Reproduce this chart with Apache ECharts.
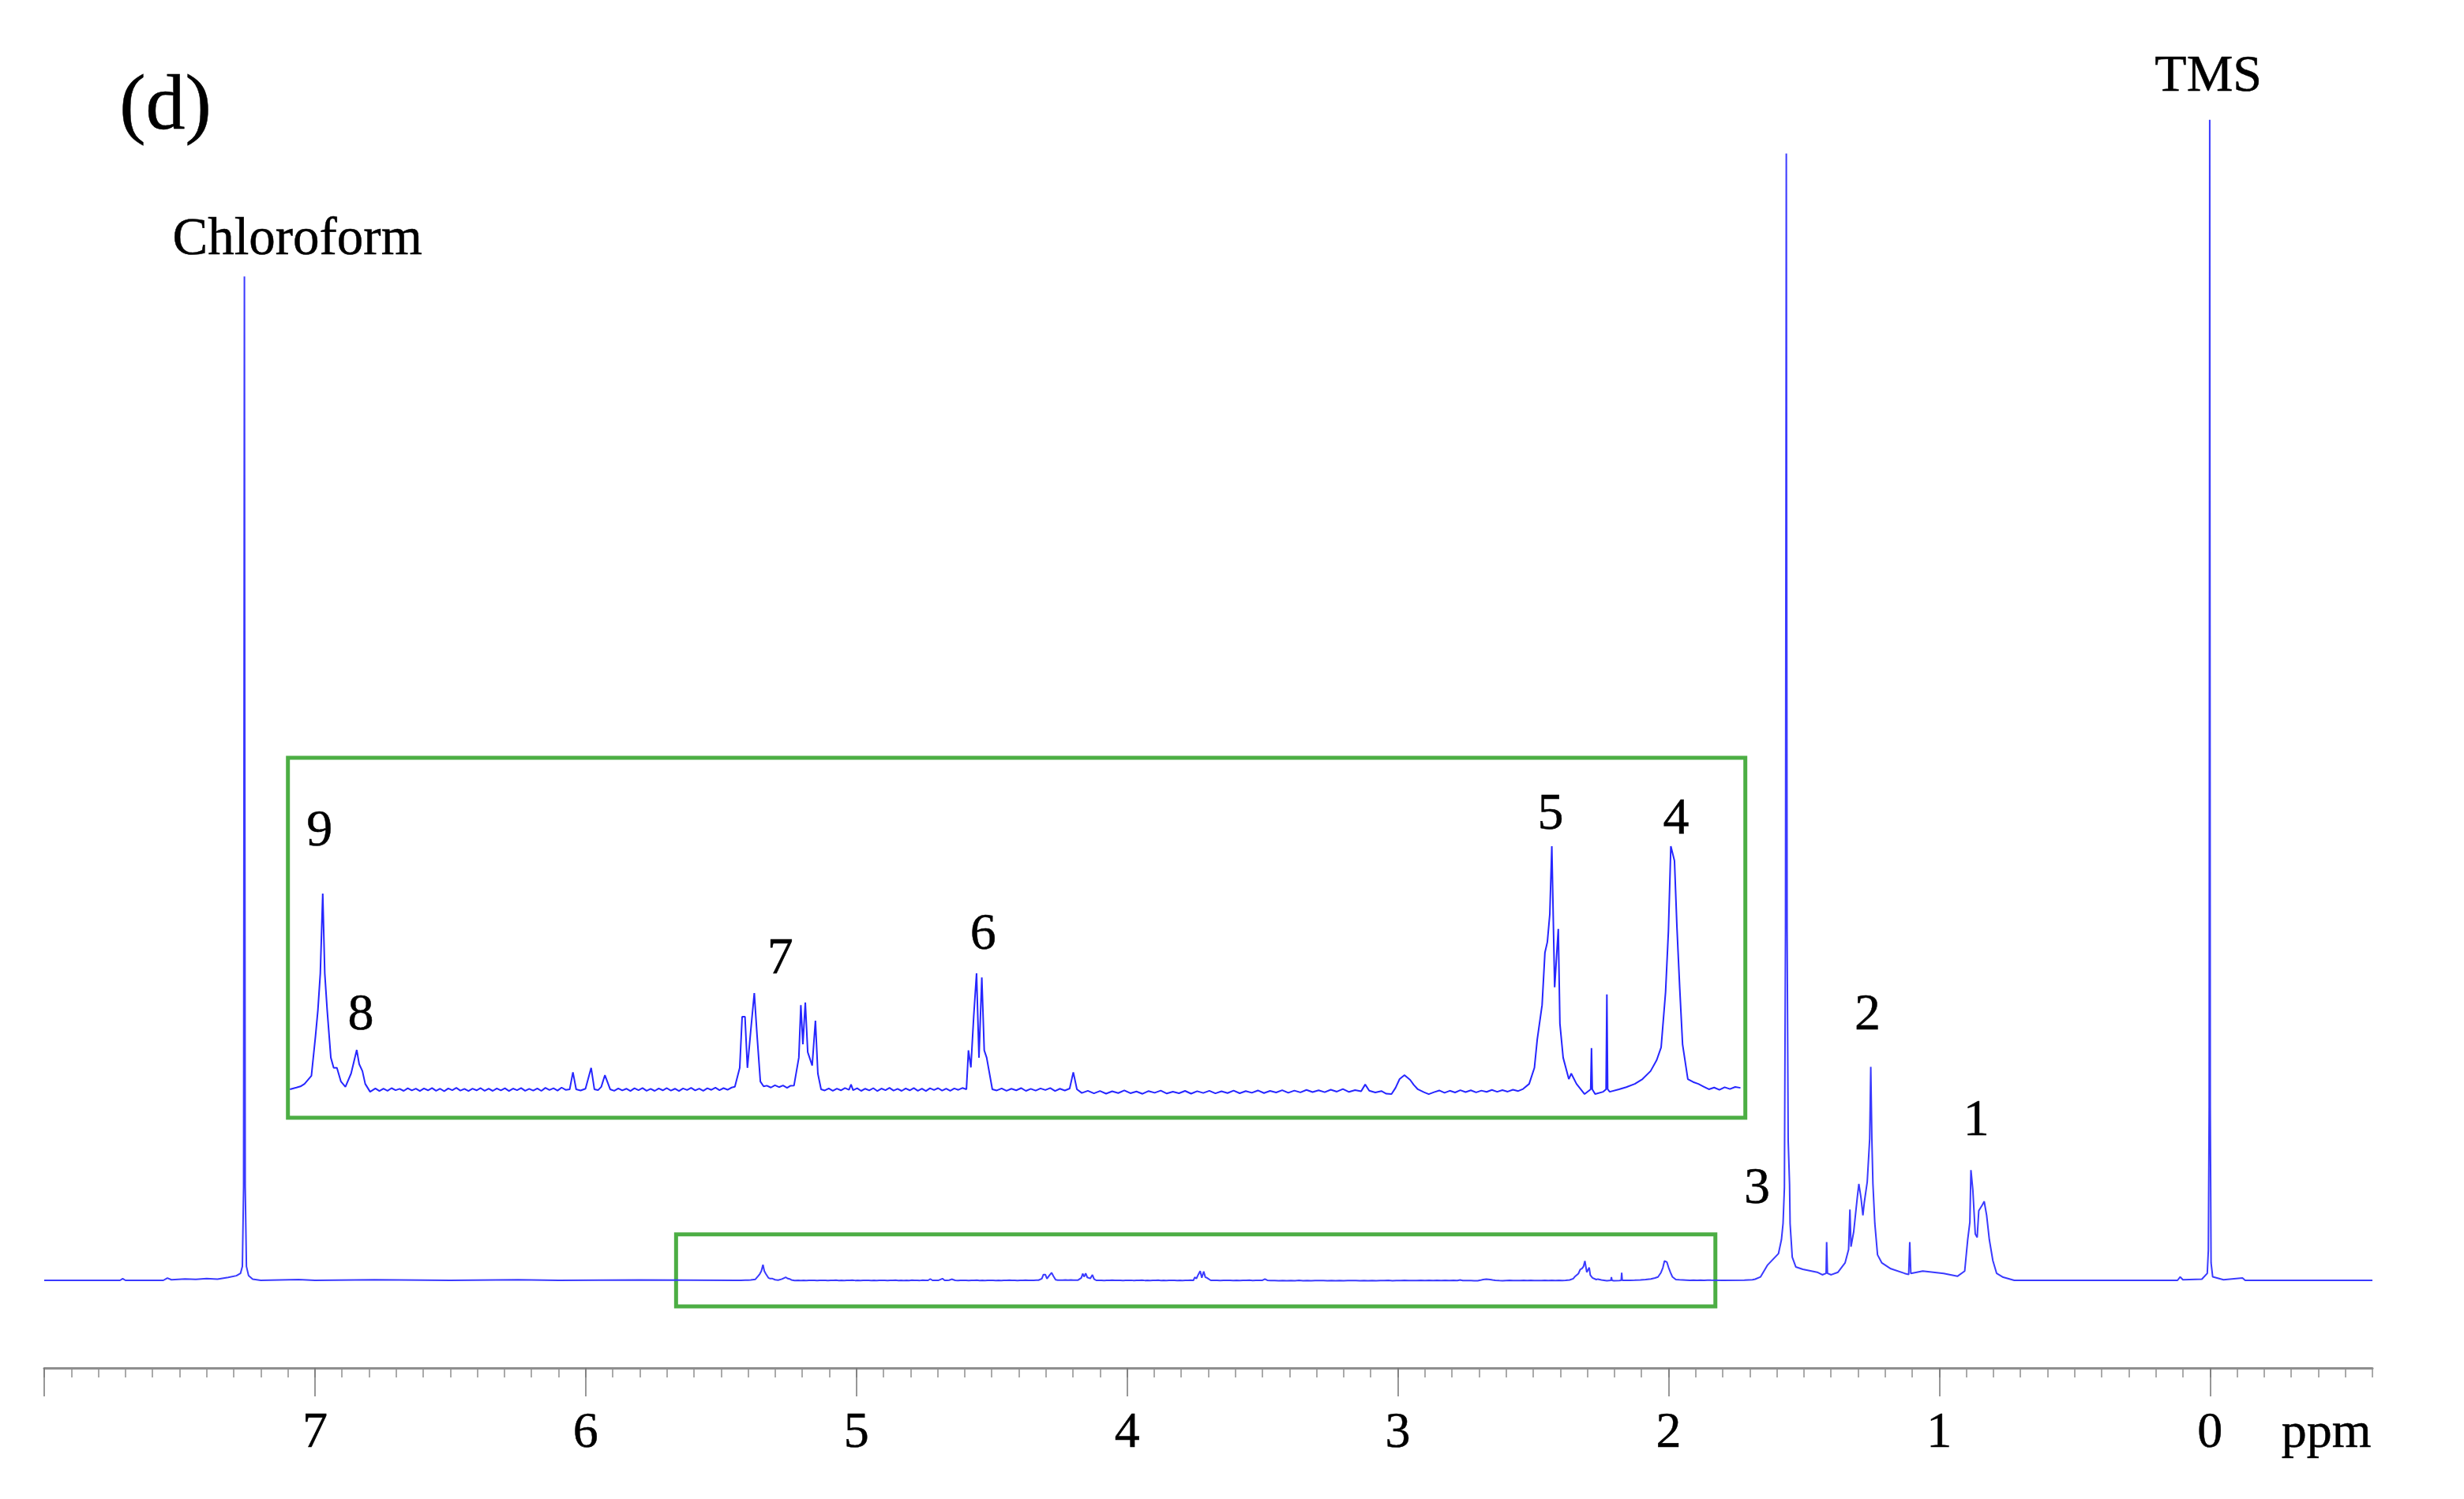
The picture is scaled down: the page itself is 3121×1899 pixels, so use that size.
<!DOCTYPE html>
<html><head><meta charset="utf-8">
<script src="https://cdn.jsdelivr.net/npm/echarts@6/dist/echarts.min.js"></script>
<style>html,body{margin:0;padding:0;background:#fff}#c{width:3121px;height:1899px}</style>
</head><body><div id="c"></div>
<script>
// ---- DATA (ppm, intensity; TMS peak = 100) ----
const spectrumLeft = [[8.0,0],[7.72,0],[7.71,0.15],[7.70,0],[7.56,0],[7.545,0.2],[7.53,0.05],[7.48,0.12],[7.44,0.08],[7.40,0.15],[7.36,0.1],[7.32,0.25],[7.29,0.4],[7.275,0.6],[7.268,1.2],[7.2635,8],[7.2605,86.5],[7.2575,8],[7.253,1.2],[7.245,0.4],[7.23,0.1],[7.20,0],[7.06,0.06],[7.0,0],[6.78,0.05],[6.5,0],[6.25,0.05],[6.1,0],[5.8,0.04],[5.44,0]];

// region 5.43–1.83 ppm, also shown magnified in the inset
const expandedRegion = [
[5.426,0.000],[5.41,0.012],[5.40,0.020],[5.390,0.037],[5.373,0.092],[5.363,0.362],[5.357,0.542],[5.351,0.795],[5.345,1.342],[5.340,0.795],[5.334,0.542],[5.325,0.217],[5.318,0.147],[5.310,0.147],[5.300,0.053],[5.289,0.017],[5.275,0.108],[5.261,0.270],[5.255,0.173],[5.247,0.125],[5.240,0.037],[5.228,-0.017],
[5.215,0.006],[5.205,-0.012],[5.195,0.004],[5.185,-0.010],[5.175,0.008],[5.165,-0.006],[5.155,0.003],[5.145,-0.011],[5.135,0.007],[5.125,-0.008],[5.115,0.005],[5.105,-0.012],[5.095,0.006],[5.085,-0.007],[5.075,0.009],[5.065,-0.010],[5.055,0.004],[5.045,-0.013],[5.035,0.006],[5.025,-0.006],[5.015,0.010],[5.005,-0.009],[4.995,0.003],[4.985,-0.012],[4.975,0.005],[4.965,-0.007],[4.955,0.008],[4.945,-0.010],[4.935,0.004],[4.925,-0.011],[4.915,0.006],[4.905,-0.008],[4.895,0.007],[4.885,-0.012],[4.875,0.005],[4.865,-0.006],[4.855,0.009],[4.845,-0.010],[4.835,0.003],[4.825,-0.009],[4.815,0.006],[4.805,-0.011],[4.795,0.010],[4.785,-0.005],[4.775,0.007],[4.765,-0.009],[4.755,0.012],[4.745,-0.004],
[4.735,0.000],[4.727,0.117],[4.719,0.000],[4.708,-0.008],[4.696,0.004],[4.682,0.147],[4.674,0.000],[4.665,-0.006],[4.657,0.017],[4.648,0.097],[4.635,0.000],
[4.625,-0.010],[4.615,0.006],[4.605,-0.008],[4.595,0.004],[4.585,-0.012],[4.575,0.007],[4.565,-0.006],[4.555,0.009],[4.545,-0.010],[4.535,0.003],[4.525,-0.011],[4.515,0.006],[4.505,-0.007],[4.495,0.008],[4.485,-0.009],[4.475,0.004],[4.465,-0.012],[4.455,0.006],[4.445,-0.005],[4.435,0.010],[4.425,-0.008],[4.415,0.005],[4.405,-0.010],[4.395,0.007],[4.385,-0.004],[4.375,0.011],[4.365,-0.006],[4.355,0.008],[4.345,-0.003],[4.335,0.012],
[4.327,0.017],[4.315,0.147],[4.309,0.498],[4.302,0.498],[4.296,0.147],[4.288,0.395],[4.279,0.660],[4.272,0.363],[4.264,0.053],[4.256,0.020],[4.248,0.025],[4.238,0.012],[4.228,0.028],[4.218,0.015],[4.208,0.026],[4.198,0.010],[4.190,0.024],[4.181,0.025],[4.169,0.217],[4.164,0.578],[4.159,0.308],[4.153,0.595],[4.147,0.255],[4.136,0.162],[4.128,0.470],[4.122,0.108],[4.114,0.000],
[4.105,-0.008],[4.095,0.006],[4.085,-0.010],[4.075,0.005],[4.065,-0.007],[4.055,0.009],[4.045,-0.004],[4.040,0.033],[4.035,-0.006],[4.025,0.007],[4.015,-0.011],[4.005,0.004],[3.995,-0.008],[3.985,0.008],[3.975,-0.012],[3.965,0.005],[3.955,-0.006],[3.945,0.010],[3.935,-0.009],[3.925,0.003],[3.915,-0.011],[3.905,0.006],[3.895,-0.007],[3.885,0.009],[3.875,-0.010],[3.865,0.004],[3.855,-0.012],[3.845,0.007],[3.835,-0.005],[3.825,0.008],[3.815,-0.009],[3.805,0.005],[3.795,-0.010],[3.785,0.006],[3.775,-0.004],[3.765,0.009],
[3.755,0.000],[3.750,0.267],[3.744,0.150],[3.737,0.500],[3.730,0.795],[3.724,0.217],[3.717,0.767],[3.711,0.267],[3.705,0.217],[3.691,0.000],
[3.680,-0.008],[3.668,0.006],[3.656,-0.010],[3.644,0.004],[3.632,-0.007],[3.620,0.008],[3.608,-0.011],[3.596,0.003],[3.584,-0.009],[3.572,0.006],[3.560,-0.005],[3.548,0.009],[3.536,-0.012],[3.524,0.004],[3.512,-0.008],[3.500,0.005],[3.491,0.117],[3.482,0.000],
[3.470,-0.025],[3.455,-0.010],[3.440,-0.028],[3.425,-0.012],[3.410,-0.030],[3.395,-0.014],[3.380,-0.026],[3.365,-0.008],[3.350,-0.027],[3.335,-0.015],[3.320,-0.031],[3.305,-0.012],[3.290,-0.024],[3.275,-0.009],[3.260,-0.029],[3.245,-0.016],[3.230,-0.027],[3.215,-0.011],[3.200,-0.030],[3.185,-0.013],[3.170,-0.025],[3.155,-0.010],[3.140,-0.028],[3.125,-0.014],[3.110,-0.026],[3.095,-0.009],[3.080,-0.027],[3.065,-0.012],[3.050,-0.024],[3.035,-0.008],[3.020,-0.026],[3.005,-0.011],[2.990,-0.022],[2.975,-0.006],[2.960,-0.024],[2.945,-0.009],[2.930,-0.021],[2.915,-0.004],[2.900,-0.019],[2.885,-0.007],[2.870,-0.020],[2.855,-0.003],[2.840,-0.016],[2.825,0.002],[2.810,-0.018],[2.795,-0.006],[2.780,-0.014],
[2.770,0.033],[2.760,-0.010],[2.745,-0.022],[2.730,-0.012],[2.718,-0.030],[2.705,-0.033],[2.695,0.010],[2.685,0.070],[2.673,0.097],[2.659,0.065],[2.650,0.030],[2.640,0.000],[2.625,-0.020],[2.613,-0.033],
[2.600,-0.020],[2.587,-0.008],[2.574,-0.024],[2.561,-0.010],[2.548,-0.022],[2.535,-0.006],[2.522,-0.019],[2.509,-0.007],[2.496,-0.021],[2.483,-0.009],[2.470,-0.018],[2.457,-0.004],[2.444,-0.017],[2.431,-0.006],[2.418,-0.016],[2.405,-0.003],[2.392,-0.012],[2.380,0.002],
[2.365,0.037],[2.352,0.147],[2.345,0.342],[2.333,0.578],[2.326,0.938],[2.320,1.010],[2.314,1.200],[2.309,1.667],[2.302,0.700],[2.293,1.100],[2.289,0.450],[2.281,0.217],[2.267,0.070],[2.261,0.108],[2.248,0.037],[2.228,-0.033],[2.213,0.000],[2.211,0.282],[2.209,0.000],[2.202,-0.033],[2.182,-0.017],[2.175,0.000],[2.173,0.650],[2.171,0.000],[2.166,-0.017],[2.143,0.000],[2.125,0.015],[2.104,0.037],[2.085,0.070],[2.065,0.125],[2.050,0.200],[2.039,0.287],[2.028,0.667],[2.021,1.083],[2.015,1.667],[2.006,1.567],[2.000,1.117],[1.993,0.692],[1.986,0.308],[1.973,0.070],[1.960,0.050],[1.947,0.037],[1.935,0.020],
[1.921,0.000],[1.908,0.012],[1.895,-0.004],[1.882,0.014],[1.869,0.002],[1.856,0.016],[1.843,0.010]
];

const spectrumRight = [[1.80,0],[1.72,0.02],[1.69,0.05],[1.687,0.15],[1.68,0.1],[1.66,0.3],[1.635,1.3],[1.594,2.3],[1.583,3.5],[1.577,4.9],[1.572,8],[1.568,30],[1.565,97.1],[1.562,30],[1.558,12],[1.553,8.3],[1.551,4.9],[1.543,2.0],[1.530,1.16],[1.504,0.95],[1.451,0.7],[1.432,0.48],[1.418,0.6],[1.416,3.3],[1.413,0.6],[1.399,0.48],[1.374,0.7],[1.348,1.5],[1.335,2.65],[1.330,6.1],[1.326,2.9],[1.316,4.2],[1.303,7.1],[1.297,8.3],[1.289,7.1],[1.282,5.6],[1.277,6.7],[1.266,8.5],[1.257,12.2],[1.253,18.4],[1.249,12.2],[1.245,8.3],[1.238,4.9],[1.228,2.2],[1.212,1.5],[1.179,1.0],[1.128,0.6],[1.113,0.5],[1.109,3.3],[1.105,0.6],[1.061,0.8],[0.984,0.6],[0.933,0.35],[0.906,0.8],[0.895,3.5],[0.887,5],[0.883,9.5],[0.876,7.8],[0.867,4.0],[0.860,3.7],[0.854,6.0],[0.841,6.5],[0.834,6.8],[0.825,5.6],[0.815,3.5],[0.802,1.7],[0.788,0.6],[0.764,0.27],[0.723,0],[0.40,0],[0.12,0],[0.11,0.3],[0.10,0.05],[0.03,0.1],[0.010,0.6],[0.006,2.6],[0.003,15],[0.001,100],[-0.001,15],[-0.004,1.5],[-0.01,0.3],[-0.05,0.05],[-0.12,0.2],[-0.13,0],[-0.6,0]];

const majorTicks = [8,7,6,5,4,3,2,1,0];
const tickLabels = [7,6,5,4,3,2,1,0];
const unitLabel = {text:'ppm', at:-0.43};

const mainAnnotations = [
  {name:'(d)', value:[7.552,101.0], size:100},
  {name:'Chloroform', value:[7.065,89.6], size:67},
  {name:'TMS', value:[0.006,103.7], size:66},
  {name:'3', value:[1.673,7.82], size:66},
  {name:'2', value:[1.265,22.8], size:66},
  {name:'1', value:[0.863,13.7], size:66}
];
const insetAnnotations = [
  {name:'9', value:[5.353,1.767]},
  {name:'8', value:[5.251,0.506]},
  {name:'7', value:[4.215,0.89]},
  {name:'6', value:[3.714,1.055]},
  {name:'5', value:[2.312,1.880]},
  {name:'4', value:[2.002,1.848]}
];
const selectionBox = {from:[5.666,3.97], to:[1.827,-2.24]};

// ---- CHART ----
const GREEN = '#4cae44';
const SERIF = "'Liberation Serif','Times New Roman',serif";
const chart = echarts.init(document.getElementById('c'), null, {renderer:'canvas'});
const annoSeries = (data, xi, yi, defSize) => ({
  type:'scatter', xAxisIndex:xi, yAxisIndex:yi, symbolSize:1, silent:true,
  itemStyle:{color:'rgba(0,0,0,0)', opacity:1},
  data: data.map(d => ({name:d.name, value:d.value, label:{fontSize:d.size || defSize}})),
  label:{show:true, position:'inside', formatter:p => p.name, color:'#000', fontFamily:SERIF,
         align:'center', verticalAlign:'middle', textBorderColor:'#000', textBorderWidth:0.5},
  z:10
});
chart.setOption({
  animation:false,
  backgroundColor:'#fff',
  grid:[
    {left:56, right:116, top:40, bottom:166},
    {left:364.7, width:1846, top:960, height:456, show:true, borderColor:GREEN, borderWidth:5, backgroundColor:'rgba(0,0,0,0)'}
  ],
  xAxis:[
    {gridIndex:0, type:'value', min:-0.6, max:8, inverse:true, interval:0.1, position:'bottom',
     axisLine:{show:true, onZero:false, lineStyle:{color:'#8f8f8f', width:3}},
     axisTick:{show:true, inside:false, length:12, lineStyle:{color:'#8f8f8f', width:1.5}},
     axisLabel:{show:false}, splitLine:{show:false}},
    {gridIndex:0, type:'value', min:-0.6, max:8, inverse:true, position:'bottom',
     axisLine:{show:false, onZero:false},
     axisTick:{show:true, inside:false, length:36, customValues:majorTicks, lineStyle:{color:'#777', width:1.5}},
     axisLabel:{show:true, customValues:tickLabels.concat([unitLabel.at]), margin:51,
       formatter:v => (v === unitLabel.at ? unitLabel.text : String(v)),
       fontSize:64, fontFamily:SERIF, color:'#000', textBorderColor:'#000', textBorderWidth:0.5},
     splitLine:{show:false}},
    {gridIndex:1, type:'value', min:1.831, max:5.431, inverse:true, show:false, splitLine:{show:false}}
  ],
  yAxis:[
    {gridIndex:0, type:'value', min:-7.55, max:107.6, show:false, splitLine:{show:false}},
    {gridIndex:1, type:'value', min:-0.195, max:2.273, show:false, splitLine:{show:false}}
  ],
  series:[
    {type:'line', xAxisIndex:0, yAxisIndex:0, showSymbol:false, silent:true,
     data: spectrumLeft.concat(expandedRegion, spectrumRight),
     lineStyle:{color:'#3a3aff', width:2},
     markArea:{silent:true, itemStyle:{color:'rgba(0,0,0,0)', borderColor:GREEN, borderWidth:5},
       data:[[{coord:selectionBox.from},{coord:selectionBox.to}]]}},
    {type:'line', xAxisIndex:2, yAxisIndex:1, showSymbol:false, silent:true,
     data: expandedRegion, lineStyle:{color:'#2626ff', width:2}},
    annoSeries(mainAnnotations, 0, 0, 66),
    annoSeries(insetAnnotations, 2, 1, 66)
  ]
});
</script></body></html>
